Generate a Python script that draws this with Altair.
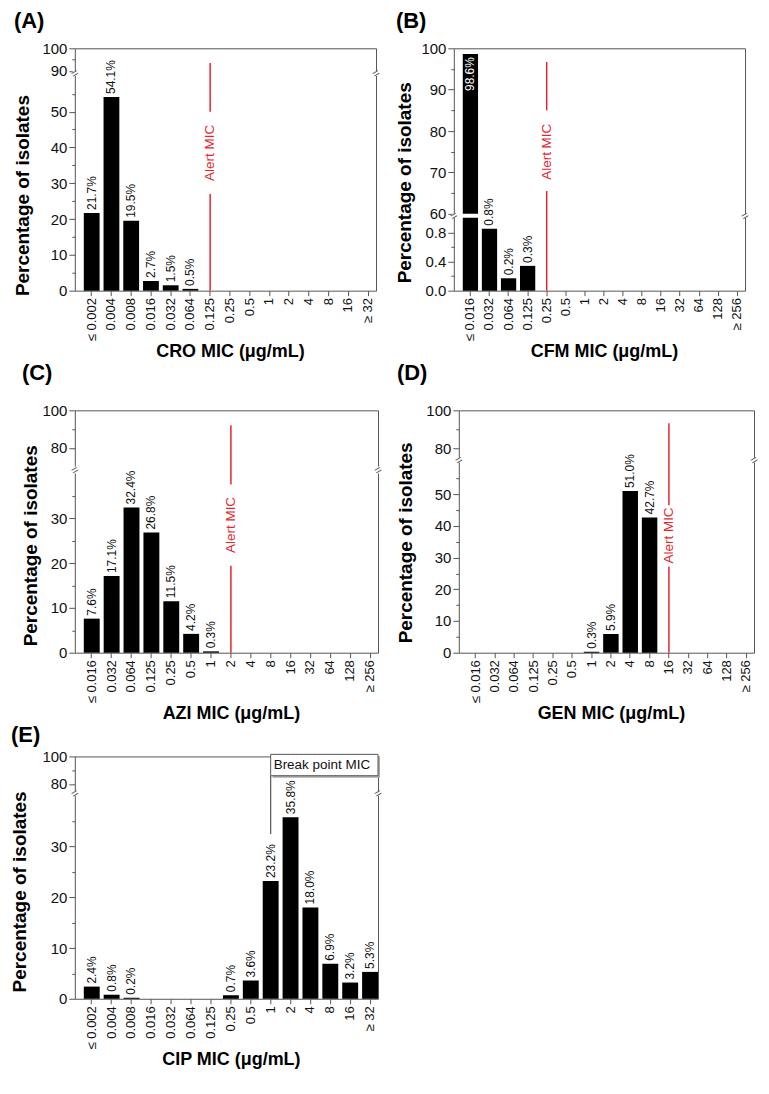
import altair as alt
import pandas as pd

FONT = "Liberation Sans"
RED = "#e3262e"
FRAME = "#555555"
TXT = "#111111"
H = 243

# ---------------- data ----------------
cats_cro = ["≤ 0.002", "0.004", "0.008", "0.016", "0.032", "0.064", "0.125", "0.25",
            "0.5", "1", "2", "4", "8", "16", "≥ 32"]
vals_cro = [21.7, 54.1, 19.5, 2.7, 1.5, 0.5, 0, 0, 0, 0, 0, 0, 0, 0, 0]
labs_cro = ["21.7%", "54.1%", "19.5%", "2.7%", "1.5%", "0.5%", "", "", "", "", "", "", "", "", ""]

cats_cfm = ["≤ 0.016", "0.032", "0.064", "0.125", "0.25", "0.5", "1", "2", "4", "8",
            "16", "32", "64", "128", "≥ 256"]
vals_cfm = [98.6, 0.85, 0.17, 0.34, 0, 0, 0, 0, 0, 0, 0, 0, 0, 0, 0]
labs_cfm = ["98.6%", "0.8%", "0.2%", "0.3%", "", "", "", "", "", "", "", "", "", "", ""]

cats_azi = ["≤ 0.016", "0.032", "0.064", "0.125", "0.25", "0.5", "1", "2", "4", "8",
            "16", "32", "64", "128", "≥ 256"]
vals_azi = [7.6, 17.1, 32.4, 26.8, 11.5, 4.2, 0.3, 0, 0, 0, 0, 0, 0, 0, 0]
labs_azi = ["7.6%", "17.1%", "32.4%", "26.8%", "11.5%", "4.2%", "0.3%", "", "", "", "", "", "", "", ""]

cats_gen = ["≤ 0.016", "0.032", "0.064", "0.125", "0.25", "0.5", "1", "2", "4", "8",
            "16", "32", "64", "128", "≥ 256"]
vals_gen = [0, 0, 0, 0, 0, 0, 0.3, 5.9, 51.0, 42.7, 0, 0, 0, 0, 0]
labs_gen = ["", "", "", "", "", "", "0.3%", "5.9%", "51.0%", "42.7%", "", "", "", "", ""]

cats_cip = ["≤ 0.002", "0.004", "0.008", "0.016", "0.032", "0.064", "0.125", "0.25",
            "0.5", "1", "2", "4", "8", "16", "≥ 32"]
vals_cip = [2.4, 0.8, 0.2, 0, 0, 0, 0, 0.7, 3.6, 23.2, 35.8, 18.0, 6.9, 3.2, 5.3]
labs_cip = ["2.4%", "0.8%", "0.2%", "", "", "", "", "0.7%", "3.6%", "23.2%", "35.8%",
            "18.0%", "6.9%", "3.2%", "5.3%"]


def build_panel(letter, cats, vals, labs, xtitle, W, dom, brk, major, minor,
                title_offset=8, ytitle_pad=8, ytitle_y=137,
                alert_cat=None, alert_segs=None, alert_text_y=None, inside_idx=(), bp=None):
    df = pd.DataFrame({
        "cat": cats, "val": vals, "lab": labs,
        "inside": [i in inside_idx for i in range(len(cats))],
    })
    k = H / 246.0
    rng = [H, brk[0] * k, brk[1] * k, 0]
    xs = alt.Scale(domain=cats, range=[9, W], paddingInner=0.2, paddingOuter=0)
    ys = alt.Scale(domain=dom, range=rng, nice=False, zero=False)
    ticks = sorted(major + minor)
    major_js = "[" + ",".join(repr(v) for v in major) + "]"
    is_major = f"indexof({major_js}, datum.value) >= 0"
    yaxis = alt.Axis(
        values=ticks,
        labelExpr=(f"{is_major} ? (datum.value < 5 && datum.value > 0 || "
                   f"(datum.value == 0 && {str(dom[1] < 5).lower()}) ? "
                   f"format(datum.value, '.1f') : format(datum.value, 'd')) : ''"),
        title="Percentage of isolates", titleFontSize=19, titleFontWeight="bold",
        titleColor="black", titleY=ytitle_y * k, titlePadding=ytitle_pad,
        labelFontSize=15, labelColor=TXT, labelPadding=2,
        tickSize={"condition": {"test": is_major, "value": 6}, "value": 3},
        tickColor=FRAME, domain=False, grid=False,
    )
    xaxis = alt.Axis(
        title=xtitle, titleFontSize=18, titleFontWeight="bold", titleColor="black",
        titlePadding=2, labelAngle=270, labelFontSize=13, labelColor=TXT,
        labelPadding=2, labelOverlap=False, tickSize=5, tickColor=FRAME,
        domain=False, grid=False,
    )
    xn = lambda field, **kw: alt.X(f"{field}:N", scale=xs, axis=xaxis, title=xtitle, **kw)
    yq = lambda field: alt.Y(f"{field}:Q", scale=ys, axis=yaxis, title="Percentage of isolates")

    bars = alt.Chart(df).mark_bar(color="black").encode(
        x=xn("cat"), y=yq("val"), y2=alt.datum(0),
    )
    gap_df = pd.DataFrame({"lo": [dom[1]], "hi": [dom[2]]})
    gap = alt.Chart(gap_df).mark_rect(color="white").encode(
        x=alt.value(-2), x2=alt.value(W + 2), y=yq("lo"), y2="hi")
    lab_out = alt.Chart(df).transform_filter("datum.lab != '' && !datum.inside").mark_text(
        angle=270, align="left", baseline="middle", dx=3, fontSize=12, color=TXT
    ).encode(x=xn("cat"), y=yq("val"), text="lab")
    layers = [bars, gap, lab_out]
    if inside_idx:
        lab_in = alt.Chart(df).transform_filter("datum.inside").mark_text(
            angle=270, align="right", baseline="middle", dx=-3, fontSize=12, color="white"
        ).encode(x=xn("cat"), y=yq("val"), text="lab")
        layers.append(lab_in)
    if alert_cat is not None:
        adf = pd.DataFrame({"cat": [alert_cat] * len(alert_segs),
                            "lo": [s[0] for s in alert_segs],
                            "hi": [s[1] for s in alert_segs]})
        layers.append(alt.Chart(adf).mark_rule(color=RED, strokeWidth=1.5).encode(
            x=xn("cat"), y=yq("lo"), y2="hi"))
        tdf = pd.DataFrame({"cat": [alert_cat], "y": [alert_text_y], "t": ["Alert MIC"]})
        layers.append(alt.Chart(tdf).mark_text(
            angle=270, align="center", baseline="middle", color=RED, fontSize=13.5
        ).encode(x=xn("cat"), y=yq("y"), text="t"))
    if bp is not None:
        bdf = pd.DataFrame({"cat": [bp["cat"]], "c2": [cats[-1]], "top": [bp["top"]],
                            "bot": [bp["bot"]], "low": [bp["low"]], "t": ["Break point MIC"],
                            "mid": [(bp["top"] + bp["bot"]) / 2]})
        layers.append(alt.Chart(bdf).mark_rule(color=FRAME, strokeWidth=1.2).encode(
            x=xn("cat"), y=yq("low"), y2="bot"))
        layers.append(alt.Chart(bdf).mark_rect(
            color="#aaaaaa", xOffset=2, x2Offset=2, yOffset=2, y2Offset=2).encode(
            x=xn("cat", bandPosition=0.5),
            x2=alt.X2("c2", bandPosition=1.0), y=yq("top"), y2="bot"))
        layers.append(alt.Chart(bdf).mark_rect(
            fill="white", stroke=FRAME, strokeWidth=1).encode(
            x=xn("cat", bandPosition=0.5),
            x2=alt.X2("c2", bandPosition=1.0), y=yq("top"), y2="bot"))
        layers.append(alt.Chart(bdf).mark_text(
            align="left", baseline="middle", dx=3, fontSize=13.5, color=TXT).encode(
            x=xn("cat"), y=yq("mid"), text="t"))
    bm = pd.DataFrame({"y": [(dom[1] + dom[2]) / 2]})
    for xpos in (0, W):
        layers.append(alt.Chart(bm).mark_text(
            text="=", angle=330, fontSize=12, color=FRAME, baseline="middle", align="center"
        ).encode(x=alt.value(xpos), y=yq("y")))
    return alt.layer(*layers).properties(
        width=W, height=H,
        title=alt.TitleParams(text=letter, anchor="start", frame="bounds", fontSize=22,
                              fontWeight="bold", color="black", offset=title_offset),
    )


pA = build_panel("(A)", cats_cro, vals_cro, labs_cro, "CRO MIC (μg/mL)", 302,
                 [0, 60, 90, 100], [28, 23],
                 [0, 10, 20, 30, 40, 50, 90, 100], [5, 15, 25, 35, 45, 55, 95],
                 title_offset=8, ytitle_pad=9, ytitle_y=149,
                 alert_cat="0.125", alert_segs=[(0, 27), (50, 93.5)], alert_text_y=38.5)
pB = build_panel("(B)", cats_cfm, vals_cfm, labs_cfm, "CFM MIC (μg/mL)", 292,
                 [0, 1, 60, 100], [172, 168],
                 [0, 0.4, 0.8, 60, 70, 80, 90, 100], [0.2, 0.6, 65, 75, 85, 95],
                 title_offset=8, ytitle_pad=6, ytitle_y=136,
                 alert_cat="0.25", alert_segs=[(0, 65.5), (85, 96.7)], alert_text_y=75,
                 inside_idx=(0,))
pC = build_panel("(C)", cats_azi, vals_azi, labs_azi, "AZI MIC (μg/mL)", 304,
                 [0, 40, 70, 100], [64, 57],
                 [0, 10, 20, 30, 80, 100], [5, 15, 25, 35, 90],
                 title_offset=18, ytitle_pad=1, ytitle_y=137,
                 alert_cat="2", alert_segs=[(0, 19.4), (37.5, 92)], alert_text_y=28.5)
pD = build_panel("(D)", cats_gen, vals_gen, labs_gen, "GEN MIC (μg/mL)", 296,
                 [0, 60, 75, 100], [53, 48],
                 [0, 10, 20, 30, 40, 50, 80, 100], [5, 15, 25, 35, 45, 55, 90],
                 title_offset=18, ytitle_pad=10, ytitle_y=134,
                 alert_cat="16", alert_segs=[(0, 27.2), (46.5, 93.2)], alert_text_y=37)
pE = build_panel("(E)", cats_cip, vals_cip, labs_cip, "CIP MIC (μg/mL)", 304,
                 [0, 40, 75, 100], [40, 35],
                 [0, 10, 20, 30, 80, 100], [5, 15, 25, 35, 90],
                 title_offset=2, ytitle_pad=12, ytitle_y=137,
                 bp={"cat": "1", "top": 101.5, "bot": 86, "low": 32.5})

row1 = alt.hconcat(pA, pB, spacing=12)
row2 = alt.hconcat(pC, pD, spacing=11)
chart = alt.vconcat(row1, row2, pE, spacing=0).properties(
    padding={"left": 2, "top": 0, "right": 0, "bottom": 0}
).configure(font=FONT).configure_view(stroke=FRAME, strokeWidth=1)

chart.save("out.html", embed_options={"renderer": "svg", "actions": False})
